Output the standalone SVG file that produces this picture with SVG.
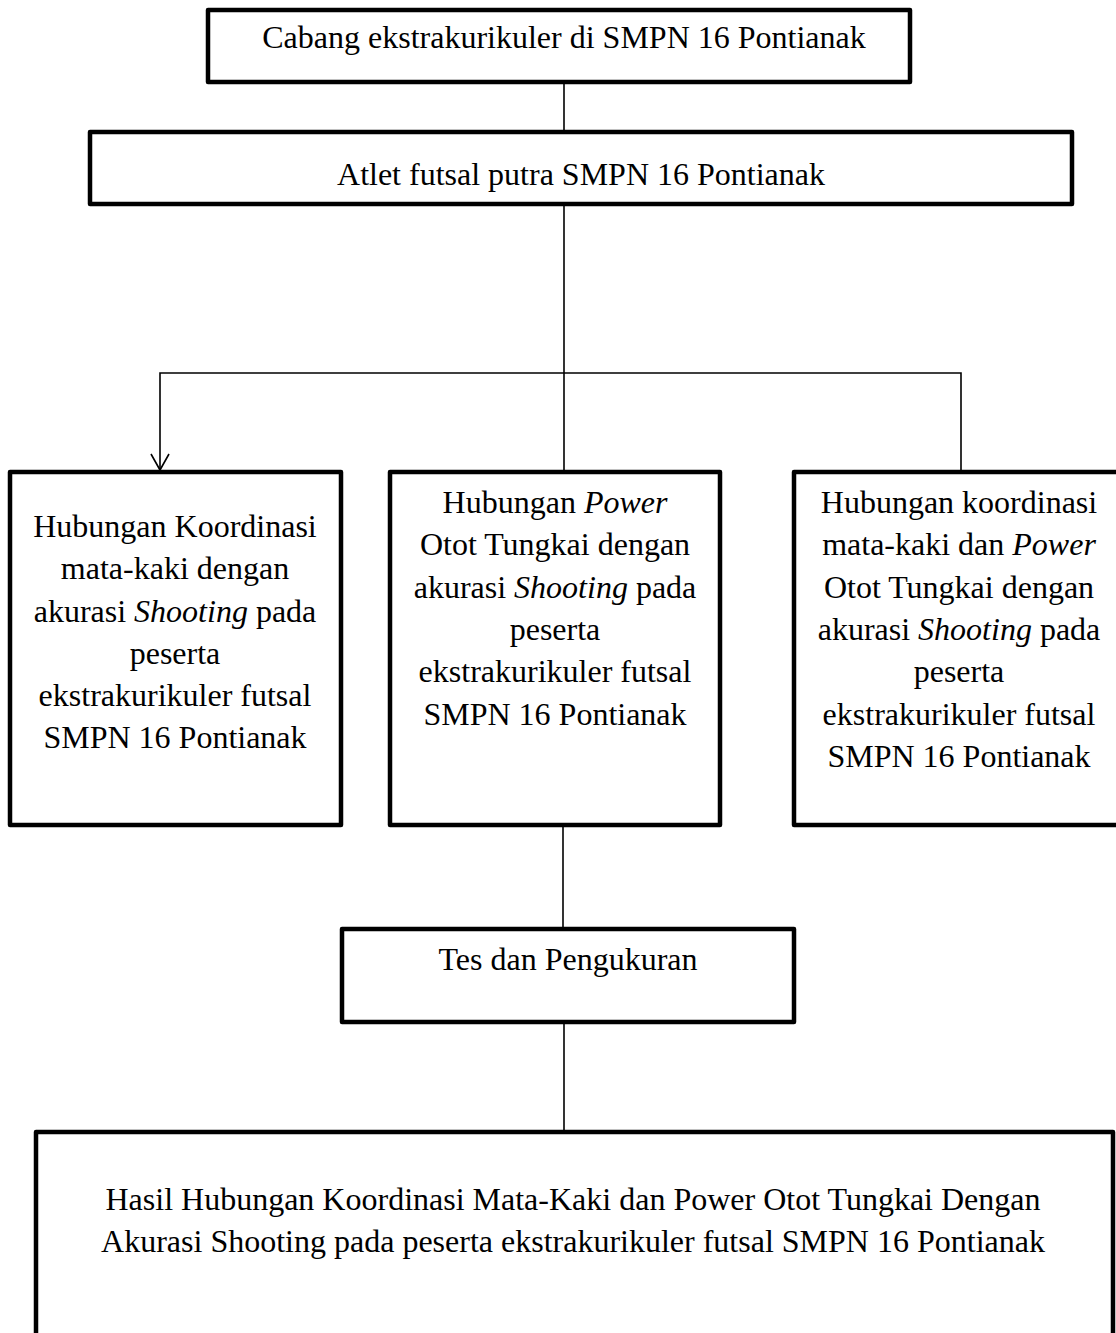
<svg xmlns="http://www.w3.org/2000/svg" width="1116" height="1333" viewBox="0 0 1116 1333">
<style>
.box{fill:#fff;stroke:#000;stroke-width:4.5;stroke-linejoin:round}
.t{font-family:"Liberation Serif","Times New Roman",serif;font-size:32px;fill:#000;text-anchor:middle}
.i{font-style:italic}
.c{fill:none;stroke:#000;stroke-width:1.6}
</style>
<rect width="1116" height="1333" fill="#fff"/>
<g id="connectors">
<line class="c" x1="564" y1="82" x2="564" y2="132"/>
<line class="c" x1="564" y1="204" x2="564" y2="472"/>
<polyline class="c" points="160,470 160,373 961,373 961,471"/>
<polyline class="c" points="151,454 160,470 169,454"/>
<line class="c" x1="563" y1="825" x2="563" y2="929"/>
<line class="c" x1="564" y1="1022" x2="564" y2="1132"/>
</g>
<g id="n1">
<rect class="box" x="208" y="10" width="702" height="72"/>
<text class="t" x="564" y="48">Cabang ekstrakurikuler di SMPN 16 Pontianak</text>
</g>
<g id="n2">
<rect class="box" x="90" y="132" width="982" height="72"/>
<text class="t" x="581" y="185">Atlet futsal putra SMPN 16 Pontianak</text>
</g>
<g id="n3">
<rect class="box" x="10" y="472" width="331" height="353"/>
<text class="t" x="175" y="537">Hubungan Koordinasi</text>
<text class="t" x="175" y="579">mata-kaki dengan</text>
<text class="t" x="175" y="622">akurasi <tspan class="i">Shooting</tspan> pada</text>
<text class="t" x="175" y="664">peserta</text>
<text class="t" x="175" y="706">ekstrakurikuler futsal</text>
<text class="t" x="175" y="748">SMPN 16 Pontianak</text>
</g>
<g id="n4">
<rect class="box" x="390" y="472" width="330" height="353"/>
<text class="t" x="555" y="513">Hubungan <tspan class="i">Power</tspan></text>
<text class="t" x="555" y="555">Otot Tungkai dengan</text>
<text class="t" x="555" y="598">akurasi <tspan class="i">Shooting</tspan> pada</text>
<text class="t" x="555" y="640">peserta</text>
<text class="t" x="555" y="682">ekstrakurikuler futsal</text>
<text class="t" x="555" y="725">SMPN 16 Pontianak</text>
</g>
<g id="n5">
<rect class="box" x="794" y="472" width="340" height="353"/>
<text class="t" x="959" y="513">Hubungan koordinasi</text>
<text class="t" x="959" y="555">mata-kaki dan <tspan class="i">Power</tspan></text>
<text class="t" x="959" y="598">Otot Tungkai dengan</text>
<text class="t" x="959" y="640">akurasi <tspan class="i">Shooting</tspan> pada</text>
<text class="t" x="959" y="682">peserta</text>
<text class="t" x="959" y="725">ekstrakurikuler futsal</text>
<text class="t" x="959" y="767">SMPN 16 Pontianak</text>
</g>
<g id="n6">
<rect class="box" x="342" y="929" width="452" height="93"/>
<text class="t" x="568" y="970">Tes dan Pengukuran</text>
</g>
<g id="n7">
<rect class="box" x="36" y="1132" width="1077" height="220"/>
<text class="t" x="573" y="1210">Hasil Hubungan Koordinasi Mata-Kaki dan Power Otot Tungkai Dengan</text>
<text class="t" x="573" y="1252">Akurasi Shooting pada peserta ekstrakurikuler futsal SMPN 16 Pontianak</text>
</g>
</svg>
